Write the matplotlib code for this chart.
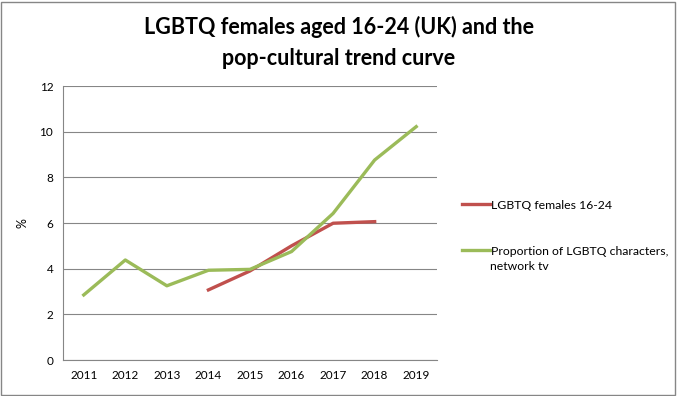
import matplotlib
matplotlib.use("Agg")
import matplotlib.pyplot as plt
from matplotlib.patches import Rectangle

years = ["2011", "2012", "2013", "2014", "2015", "2016", "2017", "2018", "2019"]
lgbtq_females = [None, None, None, 3.07, 3.9, 5.0, 5.99, 6.06, None]
tv_characters = [2.85, 4.38, 3.25, 3.93, 3.97, 4.75, 6.42, 8.76, 10.22]

plt.rcParams["font.family"] = ["Lato", "DejaVu Sans"]

fig = plt.figure(figsize=(6.77, 3.96), dpi=100)
ax = fig.add_axes([0.093, 0.0909, 0.5525, 0.6919])

x = list(range(len(years)))
red_x = [i for i, v in zip(x, lgbtq_females) if v is not None]
red_y = [v for v in lgbtq_females if v is not None]

ax.plot(red_x, red_y, color="#C0504D", linewidth=2.4, label="LGBTQ females 16-24")
ax.plot(x, tv_characters, color="#9BBB59", linewidth=2.4,
        label="Proportion of LGBTQ characters,")

ax.set_xlim(-0.5, len(years) - 0.5)
ax.set_ylim(0, 12)
ax.set_yticks(range(0, 13, 2))
ax.set_xticks(x)
ax.set_xticklabels(years)
ax.tick_params(length=0, labelsize=8.5, pad=7)
ax.yaxis.grid(True, color="#868686", linewidth=0.8)
ax.set_axisbelow(True)
for s in ["top", "right"]:
    ax.spines[s].set_visible(False)
for s in ["left", "bottom"]:
    ax.spines[s].set_color("#868686")
ax.set_ylabel("%", fontsize=9, labelpad=8)

fig.text(0.5, 0.932, "LGBTQ females aged 16-24 (UK) and the", ha="center", va="center",
         fontsize=15.5, fontweight="bold")
fig.text(0.5, 0.852, "pop-cultural trend curve", ha="center", va="center",
         fontsize=15.5, fontweight="bold")

leg = fig.legend(loc="upper left", bbox_to_anchor=(0.6745, 0.508), frameon=False,
                 fontsize=8.8, handlelength=2.3, handletextpad=0.1, labelspacing=2.85,
                 borderaxespad=0)
fig.text(0.7235, 0.327, "network tv", ha="left", va="center", fontsize=8.8)

fig.add_artist(Rectangle((0.002, 0.003), 0.995, 0.993, transform=fig.transFigure,
                         fill=False, edgecolor="#868686", linewidth=1))

fig.savefig("out.png", dpi=100)
